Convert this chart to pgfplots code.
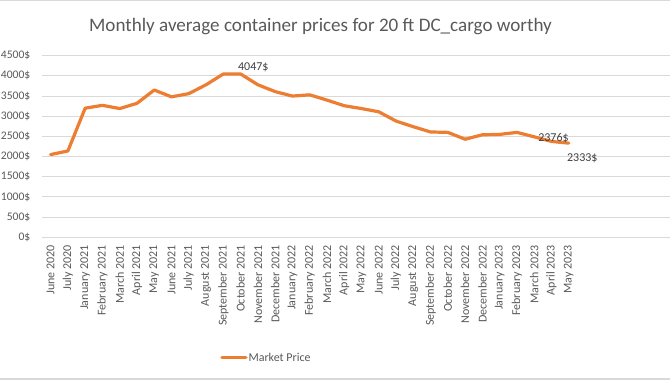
\documentclass[border=0pt]{standalone}
\usepackage{pgfplots}
\pgfplotsset{compat=1.18}
\usepackage{fontspec}
\setmainfont{Carlito}
\definecolor{excelorange}{HTML}{ED7D31}
\definecolor{gridgray}{HTML}{D9D9D9}
\definecolor{labelgray}{HTML}{595959}
\definecolor{datagray}{HTML}{404040}
\begin{document}
\begin{tikzpicture}
\useasboundingbox (0pt,0pt) rectangle (670pt,380pt);
\clip (0pt,0pt) rectangle (670pt,380pt);
\draw[gridgray, line width=1pt] (0pt,379.5pt) -- (670pt,379.5pt);
\draw[gridgray, line width=2pt] (0pt,1pt) -- (670pt,1pt);
\node[font=\fontsize{19.1}{22}\selectfont, text=labelgray, anchor=base, inner sep=0pt] at (320.5pt,348.3pt) {Monthly average container prices for 20 ft DC\_cargo worthy};
\begin{axis}[
  at={(42pt,142.7pt)}, anchor=south west,
  scale only axis, width=639pt, height=181.6pt,
  xmin=-0.5, xmax=36.5, ymin=0, ymax=4500,
  axis line style={draw=none},
  major tick style={draw=none},
  ymajorgrids, grid style={gridgray, line width=1pt},
  ytick={0,500,...,4500},
  yticklabels={0\$,500\$,1000\$,1500\$,2000\$,2500\$,3000\$,3500\$,4000\$,4500\$},
  yticklabel style={font=\fontsize{11.6}{14}\selectfont, text=labelgray, inner sep=0pt, anchor=east},
  yticklabel shift=11.5pt,
  xtick={0,...,30},
  xticklabels={June 2020, July 2020, January 2021, February 2021, March 2021, April 2021, May 2021, June 2021, July 2021, August 2021, September 2021, October 2021, November 2021, December 2021, January 2022, February 2022, March 2022, April 2022, May 2022, June 2022, July 2022, August 2022, September 2022, October 2022, November 2022, December 2022, January 2023, February 2023, March 2023, April 2023, May 2023},
  xticklabel style={font=\fontsize{12}{14}\selectfont, text=labelgray, inner sep=0pt, rotate=90, anchor=east},
  xticklabel shift=7.7pt,
  legend style={at={(axis description cs:0.3505,-0.663)}, anchor=center, draw=none, fill=none,
    font=\fontsize{12}{14}\selectfont, text=labelgray, inner sep=0pt, nodes={inner sep=1pt}},
  legend image code/.code={\draw[#1] (0pt,0pt) -- (24pt,0pt);},
  clip=false,
]
\addplot[excelorange, line width=3.2pt, line join=round, line cap=round] coordinates {
(0,2050) (1,2140) (2,3200) (3,3270) (4,3190) (5,3320) (6,3650) (7,3480) (8,3560) (9,3780)
(10,4047) (11,4047) (12,3780) (13,3610) (14,3500) (15,3530) (16,3400) (17,3260) (18,3190) (19,3110)
(20,2880) (21,2740) (22,2610) (23,2600) (24,2430) (25,2540) (26,2550) (27,2600) (28,2490) (29,2376) (30,2333)
};
\addlegendentry{Market Price}
\node[anchor=west, font=\fontsize{12}{14}\selectfont, text=datagray, inner sep=0pt, xshift=-2.7pt, yshift=7pt] at (axis cs:11,4047) {4047\$};
\node[anchor=center, font=\fontsize{12}{14}\selectfont, text=datagray, inner sep=0pt, xshift=2pt, yshift=3.5pt] at (axis cs:29,2376) {2376\$};
\node[anchor=west, font=\fontsize{12}{14}\selectfont, text=datagray, inner sep=0pt, xshift=-1.8pt, yshift=-15pt] at (axis cs:30,2333) {2333\$};
\end{axis}
\end{tikzpicture}
\end{document}
